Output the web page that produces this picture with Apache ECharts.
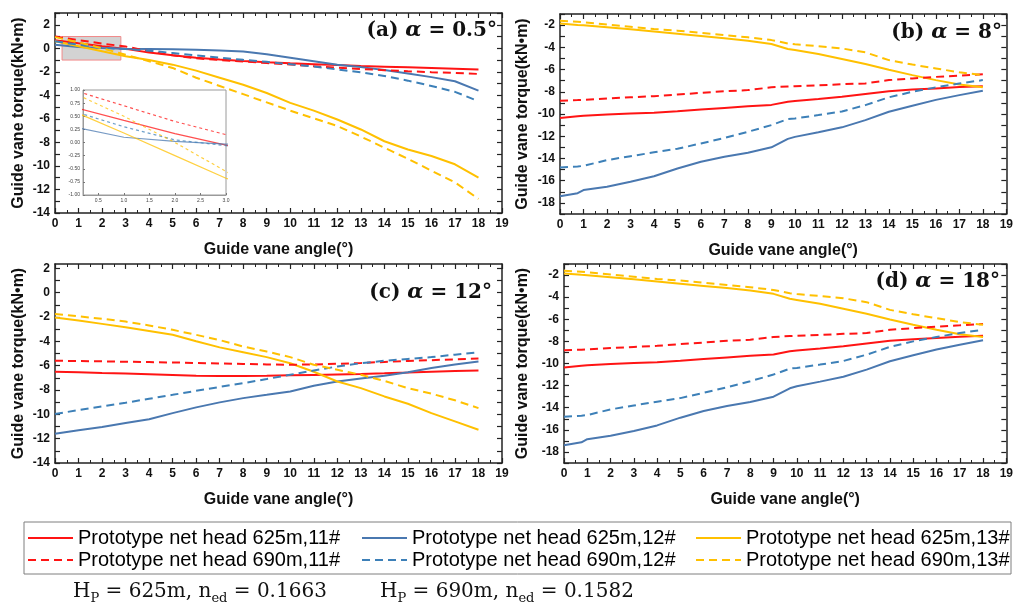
<!DOCTYPE html>
<html>
<head>
<meta charset="utf-8">
<script src="https://cdn.jsdelivr.net/npm/echarts@6/dist/echarts.min.js"></script>
<style>
  html, body { margin: 0; padding: 0; background: #fff; }
  #chart { width: 1016px; height: 605px; }
</style>
</head>
<body>
<div id="chart"></div>
<script>
// Guide vane torque (kN·m) against guide vane angle (°) for three vanes at two net heads.

// ---- shared x tick labels ----
const X_TICKS = [0, 1, 2, 3, 4, 5, 6, 7, 8, 9, 10, 11, 12, 13, 14, 15, 16, 17, 18, 19];

// ---- (a) alpha = 0.5° ----
const ANGLE_A = [0, 1, 2, 3, 4, 5, 6, 7, 8, 9, 10, 11, 12, 13, 14, 15, 16, 17, 18];
const A_625_11 = [0.68, 0.42, 0.17, -0.05, -0.35, -0.6, -0.8, -0.95, -1.08, -1.18, -1.27, -1.35, -1.43, -1.5, -1.56, -1.62, -1.68, -1.74, -1.8];
const A_625_12 = [0.3, 0.1, 0.02, -0.03, -0.05, -0.08, -0.12, -0.18, -0.28, -0.5, -0.8, -1.1, -1.4, -1.6, -1.85, -2.15, -2.45, -2.8, -3.6];
const A_625_13 = [0.6, 0.18, -0.25, -0.68, -1.0, -1.39, -1.9, -2.5, -3.1, -3.8, -4.64, -5.3, -6.05, -6.9, -7.9, -8.6, -9.16, -9.86, -11.0];
const A_690_11 = [1.0, 0.7, 0.4, 0.15, -0.25, -0.6, -0.85, -1.0, -1.12, -1.25, -1.38, -1.52, -1.65, -1.76, -1.86, -1.95, -2.03, -2.1, -2.18];
const A_690_12 = [0.6, 0.3, 0.05, -0.06, -0.2, -0.4, -0.6, -0.8, -0.98, -1.15, -1.35, -1.55, -1.8, -2.05, -2.35, -2.75, -3.2, -3.7, -4.5];
const A_690_13 = [0.95, 0.5, 0.0, -0.55, -1.1, -1.67, -2.5, -3.2, -3.9, -4.6, -5.3, -5.95, -6.6, -7.5, -8.45, -9.4, -10.4, -11.4, -12.8];
const A_Y_LABELS = [-14, -12, -10, -8, -6, -4, -2, 0, 2];
const A_Y_TICKS = [-14, -13, -12, -11, -10, -9, -8, -7, -6, -5, -4, -3, -2, -1, 0, 1, 2, 3];

// zoomed window inside (a)
const ZOOM_X_LABELS = [0.5, 1.0, 1.5, 2.0, 2.5, 3.0];
const ZOOM_Y_LABELS = [-1.0, -0.75, -0.5, -0.25, 0, 0.25, 0.5, 0.75, 1.0];

// ---- (b) alpha = 8° and (d) alpha = 18° ----
const ANGLE_B = [0, 0.75, 1, 2, 3, 4, 5, 6, 7, 8, 9, 9.7, 10, 11, 12, 13, 14, 15, 16, 17, 18];
const B_625_11 = [-10.37, -10.2, -10.15, -10.05, -9.95, -9.88, -9.76, -9.6, -9.45, -9.3, -9.18, -8.9, -8.83, -8.65, -8.45, -8.2, -7.95, -7.8, -7.7, -7.58, -7.5];
const B_625_12 = [-17.4, -17.13, -16.85, -16.54, -16.1, -15.6, -14.9, -14.3, -13.84, -13.48, -13.0, -12.24, -12.06, -11.64, -11.2, -10.55, -9.8, -9.25, -8.73, -8.3, -7.9];
const B_625_13 = [-1.85, -1.98, -2.02, -2.2, -2.38, -2.58, -2.78, -2.98, -3.18, -3.4, -3.7, -4.15, -4.25, -4.6, -5.05, -5.5, -6.02, -6.5, -6.95, -7.35, -7.6];
const B_690_11 = [-8.8, -8.75, -8.72, -8.6, -8.5, -8.4, -8.25, -8.1, -7.95, -7.85, -7.6, -7.52, -7.5, -7.42, -7.32, -7.25, -6.95, -6.8, -6.66, -6.55, -6.42];
const B_690_12 = [-14.82, -14.72, -14.67, -14.15, -13.8, -13.45, -13.13, -12.65, -12.15, -11.6, -11.0, -10.46, -10.4, -10.1, -9.77, -9.2, -8.5, -8.0, -7.6, -7.25, -6.95];
const B_690_13 = [-1.6, -1.7, -1.75, -1.95, -2.15, -2.35, -2.5, -2.7, -2.9, -3.1, -3.35, -3.65, -3.72, -3.9, -4.1, -4.45, -5.15, -5.55, -5.9, -6.25, -6.5];
const B_Y_LABELS = [-18, -16, -14, -12, -10, -8, -6, -4, -2];
const B_Y_TICKS = [-19, -18, -17, -16, -15, -14, -13, -12, -11, -10, -9, -8, -7, -6, -5, -4, -3, -2, -1];

// ---- (c) alpha = 12° ----
const ANGLE_C = [0, 1, 2, 3, 4, 5, 6, 7, 8, 9, 10, 11, 12, 13, 14, 15, 16, 17, 18];
const C_625_11 = [-6.5, -6.55, -6.6, -6.64, -6.7, -6.76, -6.84, -6.86, -6.86, -6.84, -6.8, -6.76, -6.72, -6.68, -6.63, -6.57, -6.5, -6.45, -6.4];
const C_625_12 = [-11.6, -11.3, -11.05, -10.72, -10.4, -9.9, -9.43, -9.02, -8.67, -8.4, -8.12, -7.65, -7.3, -7.05, -6.83, -6.55, -6.2, -5.9, -5.66];
const C_625_13 = [-2.05, -2.3, -2.57, -2.84, -3.15, -3.47, -4.0, -4.5, -4.9, -5.3, -5.8, -6.5, -7.3, -7.85, -8.53, -9.13, -9.9, -10.58, -11.27];
const C_690_11 = [-5.6, -5.62, -5.65, -5.68, -5.71, -5.74, -5.78, -5.82, -5.86, -5.9, -5.93, -5.9, -5.85, -5.78, -5.7, -5.62, -5.55, -5.48, -5.41];
const C_690_12 = [-9.98, -9.65, -9.35, -9.05, -8.72, -8.4, -8.07, -7.75, -7.44, -7.1, -6.75, -6.4, -6.07, -5.8, -5.6, -5.45, -5.3, -5.1, -4.9];
const C_690_13 = [-1.75, -1.95, -2.15, -2.38, -2.7, -3.06, -3.47, -3.9, -4.43, -4.84, -5.3, -5.93, -6.34, -6.75, -7.25, -7.85, -8.3, -8.85, -9.49];
const C_Y_LABELS = [-14, -12, -10, -8, -6, -4, -2, 0, 2];
const C_Y_TICKS = [-14, -13, -12, -11, -10, -9, -8, -7, -6, -5, -4, -3, -2, -1, 0, 1, 2];

// ---- series identity and look ----
const NAMES = [
  'Prototype net head 625m,11#', 'Prototype net head 625m,12#', 'Prototype net head 625m,13#',
  'Prototype net head 690m,11#', 'Prototype net head 690m,12#', 'Prototype net head 690m,13#'
];
const COLORS = ['#ff1414', '#4a78b0', '#ffc000', '#ff1414', '#3d80b8', '#ffc000'];
const DASHED = [false, false, false, true, true, true];

const SANS = 'Liberation Sans, Arial, sans-serif';
const SERIF = 'DejaVu Serif, serif';
const AXIS_COLOR = '#222';

const panels = [
  { x: ANGLE_A, ys: [A_625_11, A_625_12, A_625_13, A_690_11, A_690_12, A_690_13],
    grid: { left: 55, top: 13, width: 447, height: 200 },
    yMin: -14, yMax: 3, yLabels: A_Y_LABELS, yTicks: A_Y_TICKS, yNameGap: 28 },
  { x: ANGLE_B, ys: [B_625_11, B_625_12, B_625_13, B_690_11, B_690_12, B_690_13],
    grid: { left: 560, top: 14, width: 447, height: 200 },
    yMin: -19, yMax: -1, yLabels: B_Y_LABELS, yTicks: B_Y_TICKS, yNameGap: 29 },
  { x: ANGLE_C, ys: [C_625_11, C_625_12, C_625_13, C_690_11, C_690_12, C_690_13],
    grid: { left: 55, top: 264, width: 447, height: 199 },
    yMin: -14, yMax: 2.35, yLabels: C_Y_LABELS, yTicks: C_Y_TICKS, yNameGap: 28 },
  { x: ANGLE_B, ys: [B_625_11, B_625_12, B_625_13, B_690_11, B_690_12, B_690_13],
    grid: { left: 564, top: 264, width: 443, height: 199 },
    yMin: -19, yMax: -1, yLabels: B_Y_LABELS, yTicks: B_Y_TICKS, yNameGap: 33 }
];

const zip = (xs, ys) => xs.map((x, i) => [x, ys[i]]);

const grids = [];
const xAxes = [];
const yAxes = [];
const series = [];

const lineAxis = { show: true, onZero: false, lineStyle: { color: AXIS_COLOR, width: 1.5 } };
const labelStyle = { color: '#111', fontFamily: SANS, fontWeight: 'bold', fontSize: 12, margin: 5 };
const nameStyle = { color: '#111', fontFamily: SANS, fontWeight: 'bold', fontSize: 16 };

panels.forEach((p, g) => {
  grids.push(Object.assign({ containLabel: false }, p.grid));
  // bottom and top x axes
  xAxes.push({
    gridIndex: g, type: 'value', position: 'bottom', min: 0, max: 19, interval: 1,
    axisLine: lineAxis,
    axisTick: { inside: true, length: 5, lineStyle: { color: AXIS_COLOR, width: 1.2 } },
    minorTick: { show: true, splitNumber: 2, length: 3, lineStyle: { color: AXIS_COLOR, width: 1 } },
    axisLabel: Object.assign({ customValues: X_TICKS }, labelStyle),
    splitLine: { show: false }, minorSplitLine: { show: false },
    name: 'Guide vane angle(°)', nameLocation: 'middle', nameGap: 29, nameTextStyle: nameStyle
  });
  xAxes.push({
    gridIndex: g, type: 'value', position: 'top', min: 0, max: 19, interval: 1,
    axisLine: lineAxis,
    axisTick: { inside: true, length: 5, lineStyle: { color: AXIS_COLOR, width: 1.2 } },
    minorTick: { show: true, splitNumber: 2, length: 3, lineStyle: { color: AXIS_COLOR, width: 1 } },
    axisLabel: { show: false }, splitLine: { show: false }
  });
  // left and right y axes
  yAxes.push({
    gridIndex: g, type: 'value', position: 'left', min: p.yMin, max: p.yMax,
    axisLine: lineAxis,
    axisTick: { inside: true, length: 5, customValues: p.yTicks, lineStyle: { color: AXIS_COLOR, width: 1.2 } },
    axisLabel: Object.assign({ customValues: p.yLabels }, labelStyle),
    splitLine: { show: false },
    name: 'Guide vane torque(kN•m)', nameLocation: 'middle', nameGap: p.yNameGap, nameTextStyle: nameStyle
  });
  yAxes.push({
    gridIndex: g, type: 'value', position: 'right', min: p.yMin, max: p.yMax,
    axisLine: lineAxis,
    axisTick: { inside: true, length: 5, customValues: p.yTicks, lineStyle: { color: AXIS_COLOR, width: 1.2 } },
    axisLabel: { show: false }, splitLine: { show: false }
  });
  p.ys.forEach((ys, k) => {
    const s = {
      type: 'line', name: NAMES[k], xAxisIndex: 2 * g, yAxisIndex: 2 * g,
      data: zip(p.x, ys), symbol: 'none', showSymbol: false, z: 2, animation: false,
      lineStyle: { color: COLORS[k], width: 2, type: DASHED[k] ? [8, 5] : 'solid' },
      itemStyle: { color: COLORS[k] }
    };
    if (g === 0 && k === 0) {
      // shaded window that is enlarged in the small plot
      s.markArea = {
        silent: true,
        itemStyle: { color: 'rgba(150,150,150,0.42)', borderColor: '#f08a8a', borderWidth: 1 },
        data: [[{ coord: [0.3, 1] }, { coord: [2.8, -1] }]]
      };
    }
    series.push(s);
  });
});

// small enlarged plot inside (a)
const zg = grids.length;
grids.push({ left: 83, top: 90, width: 143, height: 105, show: true, backgroundColor: '#fff',
             borderColor: '#9a9a9a', borderWidth: 1, z: 5 });
const tinyLabel = { color: '#444', fontFamily: SANS, fontSize: 5, margin: 3 };
xAxes.push({
  gridIndex: zg, type: 'value', min: 0.2, max: 3.0, z: 6,
  axisLine: { show: true, onZero: false, lineStyle: { color: '#9a9a9a', width: 1 } },
  axisTick: { inside: true, length: 2, customValues: ZOOM_X_LABELS, lineStyle: { color: '#777' } },
  axisLabel: Object.assign({ customValues: ZOOM_X_LABELS, formatter: v => v.toFixed(1) }, tinyLabel),
  splitLine: { show: false }
});
yAxes.push({
  gridIndex: zg, type: 'value', min: -1, max: 1, z: 6,
  axisLine: { show: true, onZero: false, lineStyle: { color: '#9a9a9a', width: 1 } },
  axisTick: { inside: true, length: 2, customValues: ZOOM_Y_LABELS, lineStyle: { color: '#777' } },
  axisLabel: Object.assign({ customValues: ZOOM_Y_LABELS, formatter: v => v.toFixed(2) }, tinyLabel),
  splitLine: { show: false }
});
panels[0].ys.forEach((ys, k) => {
  series.push({
    type: 'line', name: NAMES[k], xAxisIndex: xAxes.length - 1, yAxisIndex: yAxes.length - 1,
    data: zip(ANGLE_A, ys), symbol: 'none', showSymbol: false, clip: true, z: 7, animation: false,
    lineStyle: { color: COLORS[k], width: 1.2, opacity: 0.75, type: DASHED[k] ? [3, 3] : 'solid' },
    itemStyle: { color: COLORS[k] }
  });
});

// panel captions
function caption(tag, angle, x, y) {
  return {
    type: 'text', x: x, y: y, z: 20,
    style: {
      text: '{n|' + tag + ' }{g|α}{n| = ' + angle + '°}',
      align: 'right', verticalAlign: 'middle',
      rich: {
        n: { fontFamily: SERIF, fontWeight: 'bold', fontSize: 20, fill: '#111' },
        g: { fontFamily: SERIF, fontWeight: 'bold', fontStyle: 'italic', fontSize: 21, fill: '#111' }
      }
    }
  };
}

function condition(head, ned, x, y) {
  return {
    type: 'text', x: x, y: y, z: 20,
    style: {
      text: '{m|H}{s|P}{m| = ' + head + ', n}{s|ed}{m| = ' + ned + '}',
      align: 'left', verticalAlign: 'middle',
      rich: {
        m: { fontFamily: SERIF, fontSize: 20, lineHeight: 26, fill: '#111' },
        s: { fontFamily: SERIF, fontSize: 13, lineHeight: 14, verticalAlign: 'bottom', fill: '#111' }
      }
    }
  };
}

const legendText = { fontSize: 20, fontFamily: SANS, color: '#000', width: 270, lineHeight: 20 };
// plain line keys: no marker drawn on top of the stroke
const legendKey = { opacity: 0, borderWidth: 0 };

const option = {
  backgroundColor: '#fff',
  animation: false,
  grid: grids,
  xAxis: xAxes,
  yAxis: yAxes,
  series: series,
  legend: [
    { data: NAMES.slice(0, 3), left: 27, top: 528, width: 990, itemWidth: 45, itemHeight: 14,
      itemGap: 13, padding: 0, selectedMode: false, textStyle: legendText, itemStyle: legendKey },
    { data: NAMES.slice(3), left: 27, top: 550, width: 990, itemWidth: 45, itemHeight: 14,
      itemGap: 13, padding: 0, selectedMode: false, textStyle: legendText, itemStyle: legendKey }
  ],
  graphic: [
    { type: 'rect', shape: { x: 24, y: 522, width: 987, height: 52 },
      style: { fill: 'none', stroke: '#7f7f7f', lineWidth: 1 }, z: 1 },
    caption('(a)', '0.5', 497, 31),
    caption('(b)', '8', 1002, 33),
    caption('(c)', '12', 492, 293),
    caption('(d)', '18', 1000, 282),
    condition('625m', '0.1663', 73, 592),
    condition('690m', '0.1582', 380, 592)
  ]
};

const chart = echarts.init(document.getElementById('chart'), null, { renderer: 'canvas' });
chart.setOption(option);
</script>
</body>
</html>
